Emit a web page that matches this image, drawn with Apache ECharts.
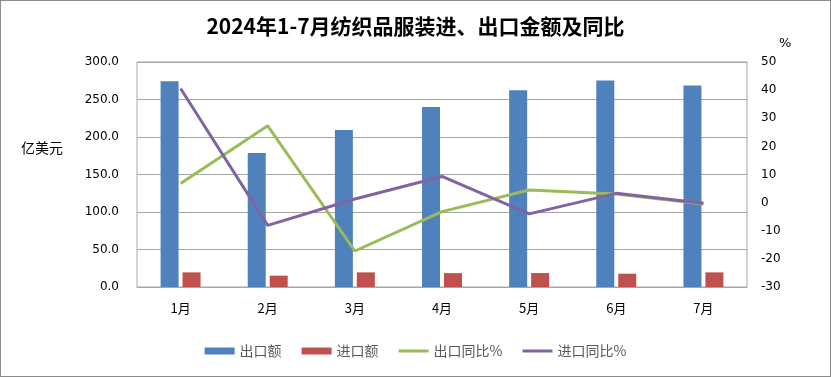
<!DOCTYPE html>
<html>
<head>
<meta charset="utf-8">
<script src="https://cdn.jsdelivr.net/npm/echarts@6/dist/echarts.min.js"></script>
<style>
  html, body { margin: 0; padding: 0; background: #fff; }
  #main { width: 829px; height: 375px; border: 1px solid #8c8c8c; }
</style>
</head>
<body>
<div id="main"></div>
<script>
// 数据
var months = ['1月', '2月', '3月', '4月', '5月', '6月', '7月'];
var exportAmt = [274.4, 178.8, 209.3, 239.9, 262.4, 275.3, 268.6];
var importAmt = [19.5, 15.1, 19.5, 18.5, 18.6, 17.7, 19.5];
var exportYoY = [6.8, 27.3, -17.2, -3.2, 4.5, 3.1, -0.5];
var importYoY = [40.6, -8.1, 1.3, 9.3, -4.0, 3.3, -0.2];

(function () {
  'use strict';
  var myChart = echarts.init(document.getElementById('main'));
  var cjk = '"Noto Sans CJK SC", sans-serif';
  var num = '"DejaVu Sans", sans-serif';
  var lineIcon = 'path://M0,0 L30,0 L30,3 L0,3 Z';
  var option = {
    animation: false,
    title: {
      text: '2024年1-7月纺织品服装进、出口金额及同比',
      left: 'center',
      top: 10,
      textStyle: { fontFamily: cjk, fontSize: 21, fontWeight: 'bold', color: '#000' }
    },
    legend: {
      bottom: 13,
      left: 'center',
      itemWidth: 30,
      itemHeight: 7,
      itemGap: 20,
      textStyle: { fontFamily: cjk, fontSize: 14, color: '#595959' },
      data: [
        { name: '出口额', icon: 'rect' },
        { name: '进口额', icon: 'rect' },
        { name: '出口同比%', icon: lineIcon },
        { name: '进口同比%', icon: lineIcon }
      ]
    },
    graphic: [{
      type: 'text', left: 20, top: 140,
      style: { text: '亿美元', font: '14px "Noto Sans CJK SC"', fill: '#000' }
    }],
    grid: { left: 136, right: 83, top: 61, bottom: 89, show: true, borderColor: '#a6a6a6', borderWidth: 1 },
    xAxis: {
      type: 'category',
      data: months,
      axisTick: { show: false },
      axisLine: { lineStyle: { color: '#a6a6a6' } },
      axisLabel: { fontFamily: cjk, fontSize: 13, color: '#000', margin: 15 }
    },
    yAxis: [{
      type: 'value',
      min: 0, max: 300, interval: 50,
      axisLine: { show: false },
      axisTick: { show: false },
      axisLabel: { fontFamily: num, fontSize: 12, color: '#000', margin: 18, formatter: function (v) { return v.toFixed(1); } },
      splitLine: { lineStyle: { color: '#a6a6a6' } }
    }, {
      type: 'value',
      min: -30, max: 50, interval: 10,
      name: '%',
      nameGap: 12,
      nameTextStyle: { fontFamily: num, fontSize: 13, color: '#000', align: 'left', padding: [0, 0, 0, 32] },
      axisLine: { show: false },
      axisTick: { show: false },
      axisLabel: { fontFamily: num, fontSize: 12, color: '#000', margin: 14 },
      splitLine: { show: false }
    }],
    series: [{
      name: '出口额', type: 'bar', data: exportAmt,
      barWidth: 18, barGap: '22%',
      itemStyle: { color: '#4f81bd' }
    }, {
      name: '进口额', type: 'bar', data: importAmt,
      barWidth: 18,
      itemStyle: { color: '#c0504d' }
    }, {
      name: '出口同比%', type: 'line', yAxisIndex: 1, data: exportYoY,
      symbol: 'none', lineStyle: { color: '#9bbb59', width: 3 }, itemStyle: { color: '#9bbb59' }
    }, {
      name: '进口同比%', type: 'line', yAxisIndex: 1, data: importYoY,
      symbol: 'none', lineStyle: { color: '#8064a2', width: 3 }, itemStyle: { color: '#8064a2' }
    }]
  };
  myChart.setOption(option);
  window.addEventListener('resize', function () {
    myChart.resize();
  });
})();
</script>
</body>
</html>
